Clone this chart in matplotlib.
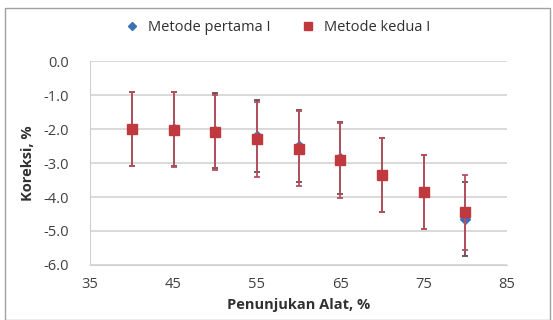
import matplotlib.pyplot as plt
from matplotlib.patches import Rectangle
from matplotlib.lines import Line2D

plt.rcParams['font.family'] = ['Open Sans', 'DejaVu Sans']

x = [40, 45, 50, 55, 60, 65, 70, 75, 80]
pertama = [-2.0, -2.0, -2.05, -2.2, -2.5, -2.85, -3.35, -3.85, -4.65]
kedua = [-2.0, -2.02, -2.1, -2.3, -2.58, -2.92, -3.35, -3.85, -4.45]
err_pertama = [1.1, 1.1, 1.1, 1.05, 1.05, 1.05, 1.1, 1.1, 1.1]
err_kedua = [1.1, 1.1, 1.1, 1.1, 1.1, 1.1, 1.1, 1.1, 1.1]

fig = plt.figure(figsize=(5.53, 3.2), dpi=100)
ax = fig.add_axes([0.163, 0.172, 0.754, 0.637])

fig.patches.append(Rectangle((0.009, 0.0), 0.985, 0.975, transform=fig.transFigure,
                             fill=False, edgecolor='#a0a0a0', linewidth=1.0))

ax.errorbar(x, pertama, yerr=err_pertama, fmt='D', color='#3b6fb6', markersize=5.5,
            ecolor='#6b4a55', elinewidth=1.3, capsize=2.5, capthick=1.3, zorder=3)
ax.errorbar(x, kedua, yerr=err_kedua, fmt='s', color='#c0393f', markersize=7,
            ecolor='#b5505e', elinewidth=1.3, capsize=2.5, capthick=1.3, zorder=4)

ax.set_xlim(35, 85)
ax.set_ylim(-6, 0)
ax.set_xticks(range(35, 86, 10))
ax.set_yticks([0, -1, -2, -3, -4, -5, -6])
ax.set_yticklabels(['0.0', '-1.0', '-2.0', '-3.0', '-4.0', '-5.0', '-6.0'])
ax.grid(axis='y', color='#d9d9d9', linewidth=1.4)
ax.set_axisbelow(True)
for s in ['top', 'right']:
    ax.spines[s].set_visible(False)
ax.spines['left'].set_color('#d0d0d0')
ax.spines['bottom'].set_color('#d0d0d0')
ax.tick_params(axis='both', length=0, labelsize=10.5, colors='#404040')
ax.tick_params(axis='y', pad=15)
ax.tick_params(axis='x', pad=9)

ax.set_xlabel('Penunjukan Alat, %', fontsize=10.5, fontweight='bold', color='#303030', labelpad=4)
ax.set_ylabel('Koreksi, %', fontsize=10.5, fontweight='bold', color='#303030', labelpad=6)

handles = [Line2D([], [], marker='D', color='#3b6fb6', linestyle='none', markersize=4),
           Line2D([], [], marker='s', color='#c0393f', linestyle='none', markersize=6)]
fig.legend(handles, ['Metode pertama I', 'Metode kedua I'], loc='center',
           bbox_to_anchor=(0.495, 0.915), ncol=2, frameon=False, fontsize=10.5,
           handletextpad=0.1, columnspacing=1.6, labelcolor='#303030')

fig.savefig('out.png', dpi=100)
